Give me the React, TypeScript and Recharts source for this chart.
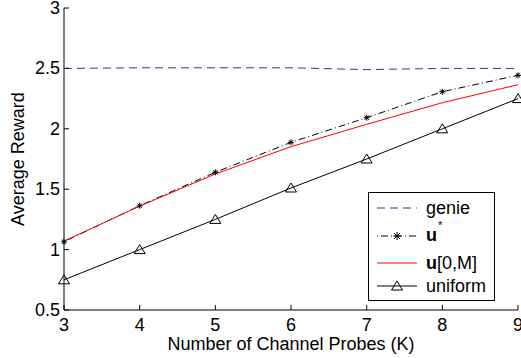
import React from 'react';
import { LineChart, Line, XAxis, YAxis, Legend, Label } from 'recharts';

const probes = [3, 4, 5, 6, 7, 8, 9];
const genie = [2.5, 2.505, 2.505, 2.505, 2.49, 2.5, 2.5];
const uStar = [1.065, 1.363, 1.64, 1.888, 2.092, 2.307, 2.443];
const u0M = [1.07, 1.36, 1.626, 1.852, 2.037, 2.216, 2.365];
const uniform = [0.75, 1.0, 1.25, 1.51, 1.75, 2.0, 2.25];
const xTicks = [3, 4, 5, 6, 7, 8, 9];
const yTicks = [0.5, 1, 1.5, 2, 2.5, 3];

const FONT = 'Arial, "Liberation Sans", Helvetica, sans-serif';
const BLUE = '#1f3c9c';

const data = probes.map((k, i) => ({
  k,
  genie: genie[i],
  uStar: uStar[i],
  u0M: u0M[i],
  uniform: uniform[i],
}));

// matlab style: ticks point inward
const LeftTick = ({ x, y, payload }: any) => (
  <g>
    <line x1={x + 4} x2={x + 9} y1={y} y2={y} stroke="#000" />
    <text x={x} y={y} textAnchor="end" dominantBaseline="central" fontSize={18} fontFamily={FONT} fill="#000">
      {payload.value}
    </text>
  </g>
);

const BottomTick = ({ x, y, payload }: any) => (
  <g>
    <line x1={x} x2={x} y1={y - 8} y2={y - 13} stroke="#000" />
    <text x={x} y={y} dy="0.72em" textAnchor="middle" fontSize={18} fontFamily={FONT} fill="#000">
      {payload.value}
    </text>
  </g>
);

const RightTick = ({ x, y }: any) => <line x1={x} x2={x - 5} y1={y} y2={y} stroke="#000" />;
const TopTick = ({ x, y }: any) => <line x1={x} x2={x} y1={y} y2={y + 5} stroke="#000" />;

const Star = ({ cx, cy, r = 4 }: any) => {
  if (cx == null || cy == null) return null;
  const d = r * 0.72;
  return (
    <g stroke="#000" strokeWidth={1}>
      <line x1={cx - r} x2={cx + r} y1={cy} y2={cy} />
      <line x1={cx} x2={cx} y1={cy - r} y2={cy + r} />
      <line x1={cx - d} x2={cx + d} y1={cy - d} y2={cy + d} />
      <line x1={cx - d} x2={cx + d} y1={cy + d} y2={cy - d} />
    </g>
  );
};

const Triangle = ({ cx, cy }: any) => {
  if (cx == null || cy == null) return null;
  return (
    <polygon
      points={`${cx},${cy - 5} ${cx - 5.5},${cy + 4} ${cx + 5.5},${cy + 4}`}
      fill="none"
      stroke="#000"
      strokeWidth={1}
    />
  );
};

const legendRows = [
  { key: 'genie', h: 26, label: <span>genie</span> },
  {
    key: 'uStar',
    h: 30,
    label: (
      <span>
        <b>u</b>
        <span style={{ fontSize: 11, position: 'relative', top: -12, marginLeft: 1 }}>*</span>
      </span>
    ),
  },
  { key: 'u0M', h: 24, label: <span><b>u</b>[0,M]</span> },
  { key: 'uniform', h: 22, label: <span>uniform</span> },
];

const sample = (key: string) => {
  if (key === 'genie') return <line x1={2} x2={42} y1={7} y2={7} stroke={BLUE} strokeDasharray="8 5" />;
  if (key === 'uStar')
    return (
      <g>
        <line x1={2} x2={42} y1={7} y2={7} stroke="#000" strokeDasharray="1 3 7 3" />
        <Star cx={22} cy={7} r={4} />
      </g>
    );
  if (key === 'u0M') return <line x1={2} x2={42} y1={7} y2={7} stroke="#ff0000" />;
  return (
    <g>
      <line x1={2} x2={42} y1={7} y2={7} stroke="#000" />
      <Triangle cx={22} cy={7} />
    </g>
  );
};

const renderLegend = () => (
  <div
    style={{
      border: '1px solid #000',
      background: '#fff',
      width: 125,
      height: 105,
      boxSizing: 'content-box',
      fontFamily: FONT,
      fontSize: 18,
      color: '#000',
      paddingTop: 2,
    }}
  >
    {legendRows.map((r) => (
      <div key={r.key} style={{ display: 'flex', alignItems: 'center', height: r.h, lineHeight: `${r.h}px` }}>
        <svg width={48} height={14} style={{ marginLeft: 6, flex: 'none' }}>
          {sample(r.key)}
        </svg>
        <div style={{ marginLeft: 3 }}>{r.label}</div>
      </div>
    ))}
  </div>
);

export default function App() {
  return (
    <div style={{ position: 'absolute', left: 0, top: 0, width: 521, height: 358, background: '#fff' }}>
      <LineChart width={521} height={358} data={data} margin={{ top: 8, right: 3, bottom: 0, left: 0 }}>
        <XAxis
          dataKey="k"
          type="number"
          domain={[3, 9]}
          ticks={xTicks}
          height={48}
          tickSize={0}
          tickMargin={8}
          tickLine={false}
          tick={<BottomTick />}
          stroke="#000"
          interval={0}
        >
          <Label
            value="Number of Channel Probes (K)"
            position="insideBottom"
            offset={8}
            style={{ fontSize: 18, fontFamily: FONT, fill: '#000' }}
          />
        </XAxis>
        <XAxis
          xAxisId="t"
          orientation="top"
          dataKey="k"
          type="number"
          domain={[3, 9]}
          ticks={xTicks}
          height={0}
          tickSize={0}
          tickMargin={0}
          tickLine={false}
          tick={<TopTick />}
          stroke="#000"
          interval={0}
        />
        <YAxis
          type="number"
          domain={[0.5, 3]}
          ticks={yTicks}
          width={64}
          tickSize={0}
          tickMargin={4}
          tickLine={false}
          tick={<LeftTick />}
          stroke="#000"
          interval={0}
        >
          <Label
            content={({ viewBox }: any) => {
              const cx = 18;
              const cy = viewBox.y + viewBox.height / 2;
              return (
                <text
                  x={cx}
                  y={cy}
                  transform={`rotate(-90 ${cx} ${cy})`}
                  textAnchor="middle"
                  dominantBaseline="central"
                  fontSize={18}
                  fontFamily={FONT}
                  fill="#000"
                >
                  Average Reward
                </text>
              );
            }}
          />
        </YAxis>
        <YAxis
          yAxisId="r"
          orientation="right"
          type="number"
          domain={[0.5, 3]}
          ticks={yTicks}
          width={0}
          tickSize={0}
          tickMargin={0}
          tickLine={false}
          tick={<RightTick />}
          stroke="#000"
          interval={0}
        />
        <Legend
          layout="vertical"
          align="center"
          verticalAlign="middle"
          content={renderLegend}
          wrapperStyle={{ position: 'absolute', left: 368, top: 192, width: 127, height: 109 }}
        />
        <Line dataKey="genie" stroke={BLUE} strokeWidth={1} strokeDasharray="8 5" dot={false} isAnimationActive={false} />
        <Line
          dataKey="uStar"
          stroke="#000"
          strokeWidth={1}
          strokeDasharray="1 3 7 3"
          dot={<Star />}
          activeDot={false}
          isAnimationActive={false}
        />
        <Line dataKey="u0M" stroke="#ff0000" strokeWidth={1} dot={false} isAnimationActive={false} />
        <Line
          dataKey="uniform"
          stroke="#000"
          strokeWidth={1}
          dot={<Triangle />}
          activeDot={false}
          isAnimationActive={false}
        />
      </LineChart>
    </div>
  );
}
